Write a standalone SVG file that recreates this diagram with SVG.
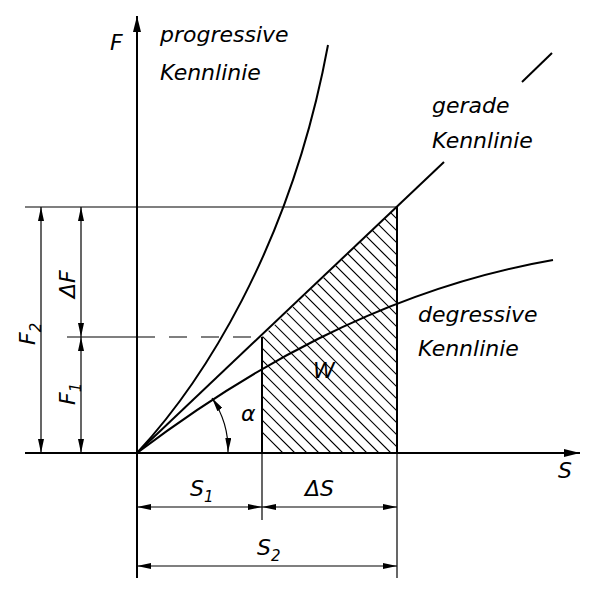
<svg xmlns="http://www.w3.org/2000/svg" width="603" height="599" viewBox="0 0 603 599">
<defs>
<marker id="a" viewBox="0 0 14 6" refX="14" refY="3" markerWidth="14" markerHeight="6" orient="auto-start-reverse" markerUnits="userSpaceOnUse"><path class="m" d="M0,0L14,3L0,6z"/></marker>
<marker id="ax" viewBox="0 0 16 8" refX="16" refY="4" markerWidth="16" markerHeight="8" orient="auto" markerUnits="userSpaceOnUse"><path class="m" d="M0,0L16,4L0,8z"/></marker>
<clipPath id="c"><path d="M262,453V337L397,207V453z"/></clipPath>
</defs>
<style>
line,path{stroke:#000;fill:none}
path.m{fill:#000;stroke:none}
.t{stroke-width:2}
.n{stroke-width:1.2}
text{font-family:"DejaVu Sans","Liberation Sans",sans-serif;font-style:italic;font-size:22px;fill:#000}
</style>
<rect width="603" height="599" fill="#fff"/>
<g id="hatch" clip-path="url(#c)">
<path stroke-width="1.2" d="M150,200l300,300M162,200l300,300M174,200l300,300M186,200l300,300M198,200l300,300M210,200l300,300M222,200l300,300M234,200l300,300M246,200l300,300M258,200l300,300M270,200l300,300M282,200l300,300M294,200l300,300M306,200l300,300M318,200l300,300M330,200l300,300M342,200l300,300M354,200l300,300M366,200l300,300M378,200l300,300M390,200l300,300M138,200l300,300M126,200l300,300M114,200l300,300M102,200l300,300M90,200l300,300M78,200l300,300M66,200l300,300M54,200l300,300M42,200l300,300M30,200l300,300"/>
</g>
<g id="connectors">
<line class="t" x1="137" y1="578" x2="137" y2="16" marker-end="url(#ax)"/>
<line class="t" x1="25" y1="453" x2="580" y2="453" marker-end="url(#ax)"/>
<line class="n" x1="25" y1="207" x2="397" y2="207"/>
<line class="n" x1="67" y1="337" x2="137" y2="337"/>
<line class="n" x1="137" y1="337" x2="262" y2="337" stroke-dasharray="18,14"/>
<line class="t" x1="262" y1="337" x2="262" y2="453"/>
<line class="n" x1="262" y1="453" x2="262" y2="520"/>
<line class="t" x1="397" y1="207" x2="397" y2="453"/>
<line class="n" x1="397" y1="453" x2="397" y2="578"/>
<line class="t" x1="137" y1="453" x2="444" y2="162"/>
<line class="t" x1="522" y1="82" x2="552" y2="53"/>
<path class="t" d="M137,453C200,385 290,250 328,45"/>
<path class="t" d="M137,453C240,375 380,290 553,260"/>
<line class="n" x1="41" y1="207" x2="41" y2="453" marker-start="url(#a)" marker-end="url(#a)"/>
<line class="n" x1="81" y1="207" x2="81" y2="337" marker-start="url(#a)" marker-end="url(#a)"/>
<line class="n" x1="81" y1="337" x2="81" y2="453" marker-start="url(#a)" marker-end="url(#a)"/>
<line class="n" x1="137" y1="507" x2="262" y2="507" marker-start="url(#a)" marker-end="url(#a)"/>
<line class="n" x1="262" y1="507" x2="397" y2="507" marker-start="url(#a)" marker-end="url(#a)"/>
<line class="n" x1="137" y1="566" x2="397" y2="566" marker-start="url(#a)" marker-end="url(#a)"/>
<path class="n" d="M212,398A92,92 0 0 1 228,452" marker-start="url(#a)" marker-end="url(#a)"/>
</g>
<g id="labels">
<text x="110" y="50">F</text>
<text x="558" y="478">S</text>
<text x="160" y="42">progressive</text>
<text x="160" y="80">Kennlinie</text>
<text x="432" y="113">gerade</text>
<text x="432" y="148">Kennlinie</text>
<text x="418" y="322">degressive</text>
<text x="418" y="356">Kennlinie</text>
<text x="313" y="378">W</text>
<text x="241" y="421">α</text>
<text x="190" y="496">S<tspan font-size="15" dy="6">1</tspan></text>
<text x="305" y="496">ΔS</text>
<text x="257" y="555">S<tspan font-size="15" dy="6">2</tspan></text>
<text transform="translate(35,345) rotate(-90)">F<tspan font-size="15" dy="6">2</tspan></text>
<text transform="translate(75,405) rotate(-90)">F<tspan font-size="15" dy="6">1</tspan></text>
<text transform="translate(75,298) rotate(-90)">ΔF</text>
</g>
</svg>
